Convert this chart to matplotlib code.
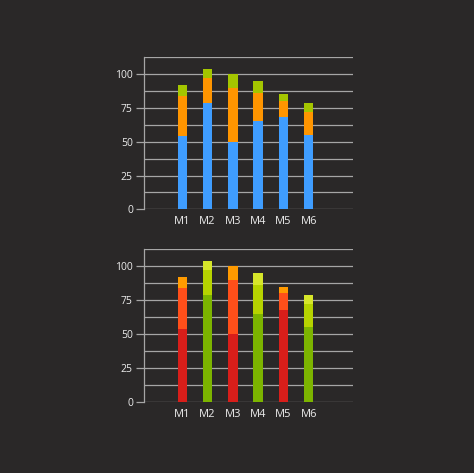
import matplotlib
matplotlib.use("Agg")
import matplotlib.pyplot as plt
import numpy as np

# data
months = ["M1", "M2", "M3", "M4", "M5", "M6"]
base = [54, 79, 50, 65, 68, 55]
middle = [30, 18, 40, 21, 12, 17]
top = [8, 7, 10, 9, 5, 7]

BG = "#2a2828"
GRID = "#a6a6a6"
TEXT = "#ececec"

# top chart: one colour per segment
seg_colors = ["#3f9dff", "#ff9500", "#a4c600"]
# bottom chart: red family / green family alternating by bar
red_family = ["#d81e1a", "#ff4f1a", "#ff9a00"]
green_family = ["#7cb400", "#b6d300", "#d6e62a"]


def style_axes(ax):
    ax.set_facecolor(BG)
    ax.set_ylim(0, 112.5)
    ax.set_xlim(-1.51, 6.75)
    for y in np.arange(0, 112.6, 12.5):
        ax.axhline(y, color=GRID, lw=0.9, zorder=0)
    ax.set_yticks([0, 25, 50, 75, 100])
    ax.set_xticks(range(len(months)))
    ax.set_xticklabels(months)
    for side in ["top", "right", "bottom"]:
        ax.spines[side].set_visible(False)
    ax.spines["left"].set_color(GRID)
    ax.spines["left"].set_linewidth(0.9)
    ax.tick_params(axis="y", colors=TEXT, labelsize=7.5, length=6,
                   width=0.9, color=GRID, pad=2)
    ax.tick_params(axis="x", colors=TEXT, labelsize=8, length=0, pad=5)


def stack_bars(ax, colors_per_bar):
    x = np.arange(len(months))
    w = 0.37
    for i in x:
        c = colors_per_bar[i]
        ax.bar(i, base[i], w, color=c[0], zorder=2)
        ax.bar(i, middle[i], w, bottom=base[i], color=c[1], zorder=2)
        ax.bar(i, top[i], w, bottom=base[i] + middle[i], color=c[2], zorder=2)


fig = plt.figure(figsize=(4.74, 4.73), dpi=100, facecolor=BG)
plt.rcParams["font.family"] = ["Open Sans", "DejaVu Sans"]

ax1 = fig.add_axes([0.3038, 0.5575, 0.441, 0.3214])
style_axes(ax1)
stack_bars(ax1, [seg_colors] * len(months))

ax2 = fig.add_axes([0.3038, 0.1507, 0.441, 0.3222])
style_axes(ax2)
stack_bars(ax2, [red_family if i % 2 == 0 else green_family
                 for i in range(len(months))])

fig.savefig("out.png", dpi=100, facecolor=BG)
